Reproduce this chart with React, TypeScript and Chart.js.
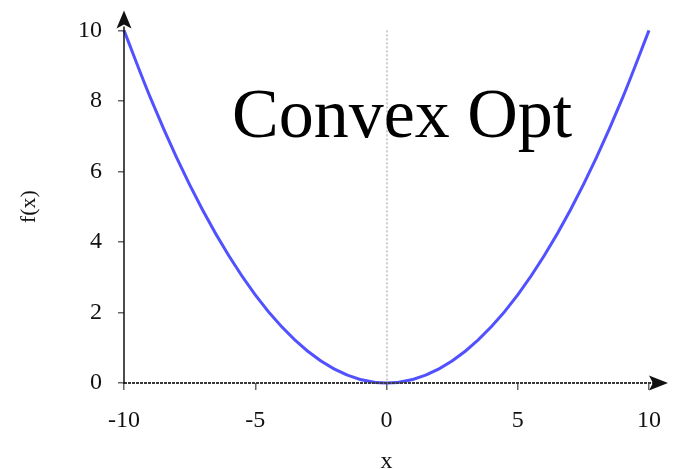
import React, { useEffect, useRef } from "react";
import { Chart, registerables } from "chart.js";

Chart.register(...registerables);

// Sample points of the convex curve f(x)
const xValues = [-10, -9, -8, -7, -6, -5, -4, -3, -2, -1, 0, 1, 2, 3, 4, 5, 6, 7, 8, 9, 10];
const fValues = [10, 8.1, 6.4, 4.9, 3.6, 2.5, 1.6, 0.9, 0.4, 0.1, 0, 0.1, 0.4, 0.9, 1.6, 2.5, 3.6, 4.9, 6.4, 8.1, 10];

// Axis ticks
const xTicks = [-10, -5, 0, 5, 10];
const yTicks = [0, 2, 4, 6, 8, 10];

const heading = "Convex Opt";
const xTitle = "x";
const yTitle = "f(x)";

const SERIF = "'Liberation Serif', 'Times New Roman', serif";

const axesPlugin = {
  id: "axesWithArrows",
  beforeDatasetsDraw(chart: any) {
    const { ctx, scales } = chart;
    const xs = scales.x;
    const ys = scales.y;
    // dotted vertical reference line at x = 0
    const x0 = xs.getPixelForValue(0);
    ctx.save();
    ctx.strokeStyle = "#9a9a9a";
    ctx.lineWidth = 1;
    ctx.setLineDash([2, 2]);
    ctx.beginPath();
    ctx.moveTo(x0 + 0.5, ys.getPixelForValue(10));
    ctx.lineTo(x0 + 0.5, ys.getPixelForValue(0));
    ctx.stroke();
    ctx.restore();
  },
  afterDraw(chart: any) {
    const { ctx, scales, chartArea } = chart;
    const xs = scales.x;
    const ys = scales.y;
    const ax = xs.getPixelForValue(-10);
    const ay = ys.getPixelForValue(0);
    ctx.save();
    // x axis (dashed, dark)
    ctx.strokeStyle = "#3a3a3a";
    ctx.lineWidth = 2;
    ctx.setLineDash([3, 1]);
    ctx.beginPath();
    ctx.moveTo(ax, ay);
    ctx.lineTo(chartArea.right + 12, ay);
    ctx.stroke();
    ctx.setLineDash([]);
    // y axis (solid black)
    ctx.strokeStyle = "#111";
    ctx.lineWidth = 1.5;
    ctx.beginPath();
    ctx.moveTo(ax, ay + 1);
    ctx.lineTo(ax, chartArea.top - 4);
    ctx.stroke();
    // arrow heads
    ctx.fillStyle = "#111";
    ctx.beginPath();
    ctx.moveTo(ax, chartArea.top - 20);
    ctx.lineTo(ax - 7.5, chartArea.top - 2);
    ctx.lineTo(ax, chartArea.top - 6);
    ctx.lineTo(ax + 7.5, chartArea.top - 2);
    ctx.closePath();
    ctx.fill();
    const tipX = chartArea.right + 19;
    ctx.beginPath();
    ctx.moveTo(tipX, ay);
    ctx.lineTo(tipX - 19, ay - 7.5);
    ctx.lineTo(tipX - 15, ay);
    ctx.lineTo(tipX - 19, ay + 7.5);
    ctx.closePath();
    ctx.fill();
    // heading text
    ctx.fillStyle = "#000";
    ctx.font = `70px ${SERIF}`;
    ctx.textAlign = "left";
    ctx.textBaseline = "alphabetic";
    ctx.fillText(heading, 232, 137);
    ctx.restore();
  },
};

export default function App() {
  const canvasRef = useRef<HTMLCanvasElement | null>(null);

  useEffect(() => {
    const canvas = canvasRef.current;
    if (!canvas) return;
    const chart = new Chart(canvas, {
      type: "line",
      data: {
        datasets: [
          {
            data: xValues.map((x, i) => ({ x, y: fValues[i] })),
            borderColor: "#5151ff",
            borderWidth: 3,
            pointRadius: 0,
            cubicInterpolationMode: "monotone",
            fill: false,
            clip: false,
          } as any,
        ],
      },
      options: {
        responsive: false,
        animation: false,
        events: [],
        layout: { padding: { top: 28, right: 24, left: 0, bottom: 0 } },
        plugins: {
          legend: { display: false },
          tooltip: { enabled: false },
        },
        scales: {
          x: {
            type: "linear",
            min: -10,
            max: 10,
            afterBuildTicks: (s: any) => {
              s.ticks = xTicks.map((v) => ({ value: v }));
            },
            afterFit: (s: any) => {
              s.height = 86;
              s.paddingLeft = 0;
              s.paddingRight = 0;
            },
            border: { display: false },
            grid: {
              drawOnChartArea: false,
              drawTicks: true,
              tickLength: 7,
              color: "#666",
              lineWidth: 1.5,
            },
            ticks: {
              color: "#111",
              padding: 16,
              maxRotation: 0,
              font: { family: SERIF, size: 24 },
              callback: (v: any) => String(v),
            },
            title: {
              display: true,
              text: xTitle,
              color: "#111",
              font: { family: SERIF, size: 24 },
              padding: { top: 0, bottom: -7 },
            },
          },
          y: {
            type: "linear",
            min: 0,
            max: 10,
            afterBuildTicks: (s: any) => {
              s.ticks = yTicks.map((v) => ({ value: v }));
            },
            afterFit: (s: any) => {
              s.width = 124;
            },
            border: { display: false },
            grid: {
              drawOnChartArea: false,
              drawTicks: true,
              tickLength: 6,
              color: "#666",
              lineWidth: 1.5,
            },
            ticks: {
              color: "#111",
              padding: 16,
              font: { family: SERIF, size: 24 },
              callback: (v: any) => String(v),
            },
            title: {
              display: true,
              text: yTitle,
              color: "#111",
              font: { family: SERIF, size: 22 },
              padding: { top: 16, bottom: 0 },
            },
          },
        },
      },
      plugins: [axesPlugin],
    });
    return () => chart.destroy();
  }, []);

  return (
    <div
      style={{
        position: "fixed",
        left: 0,
        top: 0,
        width: 673,
        height: 469,
        background: "#fff",
      }}
    >
      <canvas ref={canvasRef} width={673} height={469} style={{ display: "block" }} />
    </div>
  );
}
